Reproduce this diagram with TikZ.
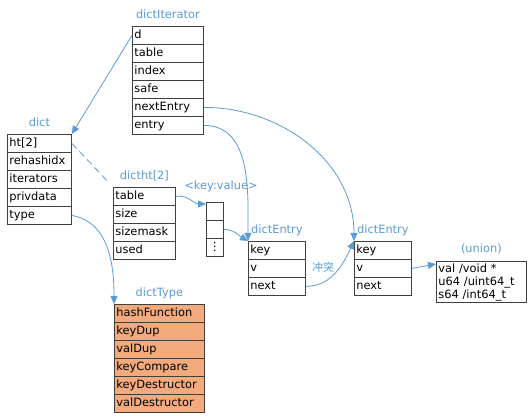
\documentclass[tikz,border=0pt]{standalone}
\usepackage{fontspec}
\setmainfont{DejaVu Sans}
\newfontfamily\cjk{Noto Sans CJK SC}
\usetikzlibrary{arrows.meta,positioning}

\definecolor{bleu}{RGB}{91,155,213}
\definecolor{saumon}{RGB}{243,170,125}
\definecolor{trait}{RGB}{64,64,64}

\begin{document}
\begin{tikzpicture}[x=1pt,y=1pt,
	font=\fontsize{11.4}{13}\selectfont,
	champ/.style={draw=trait, line width=0.8pt, anchor=north west, text width=#1, minimum height=18pt, inner xsep=2pt, inner ysep=0pt, align=left, text height=8pt, text depth=2.5pt},
	titre/.style={text=bleu, inner sep=0pt, text height=8pt, text depth=2.5pt},
	fleche/.style={draw=bleu, line width=0.8pt, -{Triangle[length=8pt,width=7pt]}}]

\useasboundingbox (0,0) rectangle (530,-419);

%Hauteur d'une ligne
\def \hligne{18}

%%% dictIterator %%%
\foreach \nom [count=\i] in {d,table,index,safe,nextEntry,entry}
	\node[champ=67pt] (iter-\i) at (132,{-26-(\i-1)*\hligne}) {\nom};
\node[titre, above=4.5pt of iter-1] (iter-titre) {dictIterator};

%%% dict %%%
\foreach \nom [count=\i] in {{ht[2]},rehashidx,iterators,privdata,type}
	\node[champ=60pt] (dict-\i) at (7,{-134-(\i-1)*\hligne}) {\nom};
\node[titre, above=4.5pt of dict-1] (dict-titre) {dict};

%%% dictht[2] %%%
\foreach \nom [count=\i] in {table,size,sizemask,used}
	\node[champ=58pt] (dictht-\i) at (113,{-187-(\i-1)*\hligne}) {\nom};
\node[titre, above=4.5pt of dictht-1] (dictht-titre) {dictht[2]};

%Tableau <key:value>
\foreach \nom [count=\i] in {{},{},{⋮}}
	\node[champ=13pt, align=center] (tab-\i) at (206,{-202-(\i-1)*\hligne}) {\nom};
\node[titre] (tab-titre) at (221,-187) {<key:value>};

%%% dictEntry %%%
\foreach \nom [count=\i] in {key,v,next}
	\node[champ=53pt] (ent1-\i) at (248,{-241-(\i-1)*\hligne}) {\nom};
\node[titre, above=4.5pt of ent1-1] (ent1-titre) {dictEntry};

\foreach \nom [count=\i] in {key,v,next}
	\node[champ=53pt] (ent2-\i) at (354,{-241-(\i-1)*\hligne}) {\nom};
\node[titre, above=4.5pt of ent2-1] (ent2-titre) {dictEntry};

%%% union %%%
\node[draw=trait, line width=0.8pt, anchor=north west, text width=86pt, minimum height=41pt, inner xsep=2pt, inner ysep=2pt, align=left] (union) at (436,-261) {val /void *\\u64 /uint64\_t\\s64 /int64\_t};
\node[titre, above=6pt of union] (union-titre) {(union)};

%%% dictType %%%
\foreach \nom [count=\i] in {hashFunction,keyDup,valDup,keyCompare,keyDestructor,valDestructor}
	\node[champ=86pt, fill=saumon] (type-\i) at (114,{-304-(\i-1)*\hligne}) {\nom};
\node[titre, above=4.5pt of type-1] (type-titre) {dictType};

%%% Liens %%%
\draw[fleche] (iter-1.west) -- (dict-1.north east);
\draw[bleu, line width=0.8pt, dash pattern=on 7pt off 4pt, shorten >=7pt] (dict-1.east) -- (dictht-1.north west);
\draw[fleche] (dict-5.east) to[out=-10,in=90] (type-1.north west);
\draw[fleche] (dictht-1.east) to[out=10,in=180] ([yshift=-2pt]tab-1.north west);
\draw[fleche] (tab-2.east) to[out=0,in=150] (ent1-1.north west);
\draw[fleche] (iter-6.east) to[out=0,in=90] (ent1-1.north west);
\draw[fleche] (iter-5.east) to[out=0,in=90] (ent2-1.north west);
\draw[fleche] (ent1-3.east) to[out=0,in=245] node[pos=0.6, left=2pt, text=bleu, font=\cjk\fontsize{11}{13}\selectfont] (conflit) {冲突} (ent2-1.north west);
\draw[fleche] (ent2-2.east) -- ([yshift=-3pt]union.north west);

\end{tikzpicture}
\end{document}
